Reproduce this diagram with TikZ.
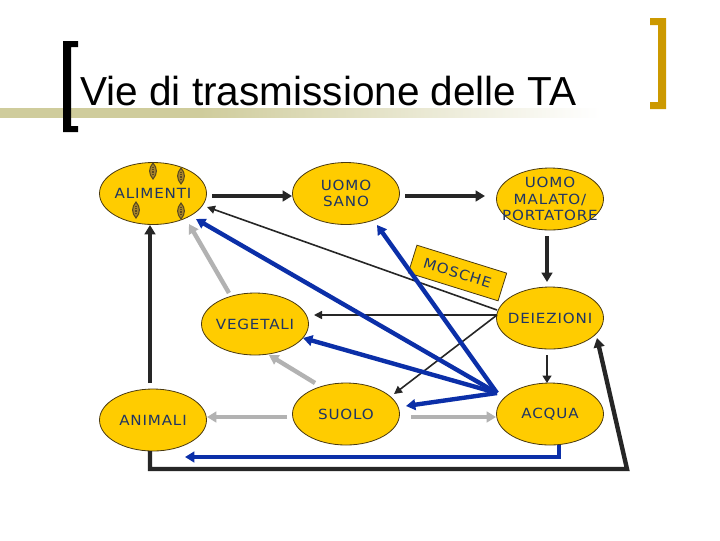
\documentclass[tikz,border=0pt]{standalone}
\usepackage{fontspec}
\usetikzlibrary{arrows.meta,shapes.geometric}
\setmainfont{Liberation Sans}
\newfontfamily\nodefont[LetterSpace=6,FakeStretch=1.08]{DejaVu Sans}
\newcommand{\nlabel}[1]{\makebox[0pt]{#1}}
\definecolor{nodefill}{HTML}{FFCC00}
\definecolor{nodeline}{HTML}{4A3A10}
\definecolor{nodetext}{HTML}{1F3564}
\definecolor{darkarrow}{HTML}{262626}
\definecolor{bluearrow}{HTML}{0B2FA8}
\definecolor{greyarrow}{HTML}{B2B2B2}
\definecolor{barcolor}{HTML}{CFCC9C}
\definecolor{goldbracket}{HTML}{CC9900}
\definecolor{seedfill}{HTML}{A8842A}
\definecolor{seedline}{HTML}{5A4A20}
\pgfdeclarehorizontalshading{barshade}{100bp}{color(0bp)=(barcolor); color(41.67bp)=(barcolor); color(75bp)=(white); color(100bp)=(white)}
\tikzset{
  x=0.75pt,y=-0.75pt,
  blob/.style={ellipse,draw=nodeline,line width=0.6pt,fill=nodefill,minimum width=80.25pt,minimum height=46.5pt,inner sep=0pt,align=center,text=nodetext,font=\nodefont\fontsize{10.5}{12.3}\selectfont},
  heavy/.style={draw=darkarrow,line width=3.3pt,-{Triangle[length=7pt,width=8pt]}},
  medium/.style={draw=darkarrow,line width=1.8pt,-{Triangle[length=5.5pt,width=6.5pt]}},
  thin/.style={draw=darkarrow,line width=1.2pt,-{Triangle[length=6pt,width=6pt]}},
  bluebig/.style={draw=bluearrow,line width=3.3pt,-{Triangle[length=7pt,width=8pt]}},
  greybig/.style={draw=greyarrow,line width=3.3pt,-{Triangle[length=7pt,width=8pt]}},
  seed/.style={draw=seedline,fill=seedfill,line width=0.8pt},
  seedcore/.style={draw=seedline,line width=1.4pt,dash pattern=on 1pt off 0.8pt},
}
\begin{document}
\begin{tikzpicture}
\useasboundingbox (0,0) rectangle (720,540);
\fill[white] (0,0) rectangle (720,540);
% title bar
\shade[shading=barshade] (0,108) rectangle (600,117);
\node[inner sep=0pt,anchor=base west,font=\fontsize{30.4}{33}\selectfont,text=black] (title) at (80,105) {Vie di trasmissione delle TA};
% brackets
\fill[black] (78,41) -- (63,41) -- (63,132) -- (78,132) -- (78,126) -- (71,126) -- (71,47) -- (78,47) -- cycle;
\fill[goldbracket] (650,18) -- (666,18) -- (666,109) -- (650,109) -- (650,102) -- (658,102) -- (658,25) -- (650,25) -- cycle;
% MOSCHE label
\node[rotate=-17.3,draw=nodeline,line width=0.6pt,fill=nodefill,minimum width=70.5pt,minimum height=21.75pt,inner sep=0pt,text=nodetext,font=\nodefont\fontsize{10.5}{12.5}\selectfont] (mosche) at (457.5,273) {MOSCHE};
% nodes
\node[blob] (alim) at (153,193.5) {\nlabel{ALIMENTI}};
\node[blob] (sano) at (346,193.5) {\nlabel{UOMO}\\\nlabel{SANO}};
\node[blob] (malato) at (550,199) {\nlabel{UOMO}\\\nlabel{MALATO/}\\\nlabel{PORTATORE}};
\node[blob] (deiez) at (550,318) {\nlabel{DEIEZIONI}};
\node[blob] (veget) at (255,324) {\nlabel{VEGETALI}};
\node[blob] (anim) at (153,420) {\nlabel{ANIMALI}};
\node[blob] (suolo) at (346,414) {\nlabel{SUOLO}};
\node[blob] (acqua) at (550,414) {\nlabel{ACQUA}};
% seeds on ALIMENTI
\foreach \sx/\sy in {153/171,181/176,136/210,181/211}{
  \draw[seed] (\sx,\sy-8) .. controls (\sx+4.5,\sy-3) and (\sx+4.5,\sy+3) .. (\sx,\sy+8) .. controls (\sx-4.5,\sy+3) and (\sx-4.5,\sy-3) .. (\sx,\sy-8) -- cycle;
  \draw[seedcore] (\sx,\sy-4.5) -- (\sx,\sy+4.5);
}
% heavy dark
\draw[heavy] ([shift={(59,2.5)}]alim.center) -- ([shift={(-54,2.5)}]sano.center);
\draw[heavy] ([shift={(59,2.5)}]sano.center) -- ([shift={(-65,-3)}]malato.center);
\draw[heavy] ([shift={(-3,37)}]malato.center) -- ([shift={(-3,-36)}]deiez.center);
\draw[medium] ([shift={(-3,37)}]deiez.center) -- ([shift={(-3,-31)}]acqua.center);
% thin from DEIEZIONI
\draw[thin] ([shift={(-53,-8)}]deiez.center) -- ([shift={(54,13.5)}]alim.center);
\draw[thin] ([shift={(-53,-3)}]deiez.center) -- ([shift={(59,-9)}]veget.center);
\draw[thin] ([shift={(-53,-3)}]deiez.center) -- ([shift={(48,-20)}]suolo.center);
% blue
\coordinate (hub) at (497,393);
\draw[bluebig] (hub) -- ([shift={(43,25.5)}]alim.center);
\draw[bluebig] (hub) -- ([shift={(31,31.5)}]sano.center);
\draw[bluebig] (hub) -- ([shift={(48,14)}]veget.center);
\draw[bluebig] (hub) -- ([shift={(60,-8)}]suolo.center);
\draw[bluebig] ([shift={(9,31)}]acqua.center) |- ([shift={(32,37)}]anim.center);
% grey
\draw[greybig] ([shift={(-26,-31)}]veget.center) -- ([shift={(36,30.5)}]alim.center);
\draw[greybig] ([shift={(-31,-31)}]suolo.center) -- ([shift={(14,31)}]veget.center);
\draw[greybig] ([shift={(-59,3)}]suolo.center) -- ([shift={(54,-3)}]anim.center);
\draw[greybig] ([shift={(65,3)}]suolo.center) -- ([shift={(-54,3)}]acqua.center);
% animali
\draw[heavy] ([shift={(-3,-37)}]anim.center) -- ([shift={(-3,31.5)}]alim.center);
\coordinate (corner1) at (150,469);
\coordinate (corner2) at (627,469);
\draw[heavy,line join=miter] ([shift={(-3,31)}]anim.center) -- (corner1) -- (corner2) -- ([shift={(47,20)}]deiez.center);
\end{tikzpicture}
\end{document}
